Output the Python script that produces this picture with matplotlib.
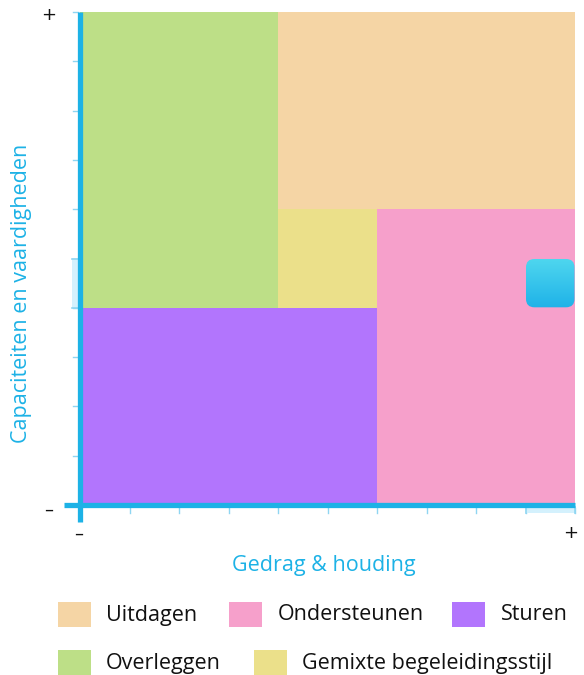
import numpy as np
import matplotlib
matplotlib.use("Agg")
import matplotlib.pyplot as plt
from matplotlib.patches import Rectangle, FancyBboxPatch

# quadrant data (x = gedrag & houding, y = capaciteiten)
styles = ['Uitdagen', 'Ondersteunen', 'Sturen', 'Overleggen', 'Gemixte begeleidingsstijl']
x_start = [4, 6, 0, 0, 4]
x_end = [10, 10, 6, 4, 6]
y_start = [6, 0, 0, 4, 4]
y_end = [10, 6, 4, 10, 6]
colors = ['#f5d5a5', '#f6a0cb', '#b275fd', '#bddf87', '#ebe08a']

# the assessed person
point_x = [9.5]
point_y = [4.5]

BLUE = '#1db2e6'
TICK = '#8fd6f2'
BAND = '#d4f1fd'

plt.rcParams['font.family'] = ['Open Sans', 'DejaVu Sans']

W, H = 584, 675
fig = plt.figure(figsize=(W / 100, H / 100), dpi=100)
ax = fig.add_axes([80 / W, 1 - 505 / H, 495 / W, 493 / H])
ax.set_xlim(0, 10)
ax.set_ylim(0, 10)
ax.axis('off')

for x0, x1, y0, y1, c in zip(x_start, x_end, y_start, y_end, colors):
    ax.add_patch(Rectangle((x0, y0), x1 - x0, y1 - y0, facecolor=c, edgecolor='none', zorder=1))

# ticks
for i in range(11):
    ax.plot([-0.14, -0.04], [i, i], color=TICK, lw=1, clip_on=False, zorder=2)
    ax.plot([i, i], [-0.06, -0.17], color=TICK, lw=1, clip_on=False, zorder=2)

# highlight bands on the axes for the point
for px, py in zip(point_x, point_y):
    cx, cy = int(np.floor(px)), int(np.floor(py))
    ax.add_patch(Rectangle((-0.17, cy), 0.12, 1, facecolor=BAND, edgecolor='none',
                           clip_on=False, zorder=2))
    ax.plot([-0.17, -0.05], [cy, cy], color=TICK, lw=1.2, clip_on=False, zorder=2)
    ax.plot([-0.17, -0.05], [cy + 1, cy + 1], color=TICK, lw=1.2, clip_on=False, zorder=2)
    ax.add_patch(Rectangle((cx, -0.17), 1, 0.12, facecolor=BAND, edgecolor='none',
                           clip_on=False, zorder=2))
    ax.plot([cx, cx], [-0.05, -0.17], color=TICK, lw=1.2, clip_on=False, zorder=2)
    ax.plot([cx + 1, cx + 1], [-0.05, -0.17], color=TICK, lw=1.2, clip_on=False, zorder=2)

# axis lines
ax.plot([0, 0], [-0.34, 10], color=BLUE, lw=3.8, solid_capstyle='butt', clip_on=False, zorder=3)
ax.plot([-0.33, 10], [0, 0], color=BLUE, lw=3.8, solid_capstyle='butt', clip_on=False, zorder=3)

# marker: rounded square with gradient
grad = np.linspace(0, 1, 100).reshape(-1, 1)
cmap = matplotlib.colors.LinearSegmentedColormap.from_list('g', ['#1fb2e8', '#4fd7ef'])
for px, py in zip(point_x, point_y):
    box = FancyBboxPatch((px - 0.49 + 0.17, py - 0.49 + 0.17), 0.98 - 0.34, 0.98 - 0.34,
                         boxstyle='round,pad=0.17', facecolor='none', edgecolor='none', zorder=4)
    ax.add_patch(box)
    im = ax.imshow(grad, cmap=cmap, origin='lower', aspect='auto',
                   extent=(px - 0.5, px + 0.5, py - 0.5, py + 0.5), zorder=4)
    im.set_clip_path(box)
ax.set_xlim(0, 10)
ax.set_ylim(0, 10)

# +/- markers
sign = dict(ha='center', va='center', color='#111111', family='DejaVu Sans', fontsize=13)
fig.text(48.5 / W, 1 - 15.5 / H, '+', **sign)
fig.text(49 / W, 1 - 510 / H, '–', **sign)
fig.text(79 / W, 1 - 534 / H, '–', **sign)
fig.text(571 / W, 1 - 533.5 / H, '+', **sign)

# axis titles
fig.text(324 / W, 1 - 566 / H, 'Gedrag & houding', ha='center', va='center', fontsize=15.5, color=BLUE)
fig.text(22 / W, 1 - 293 / H, 'Capaciteiten en vaardigheden', ha='center', va='center',
         rotation=90, fontsize=15.5, color=BLUE)

# legend
legend_pos = [(57.5, 602), (229, 602), (452, 602), (57.5, 650), (254, 650)]
for name, c, (lx, ly) in zip(styles, colors, legend_pos):
    fig.add_artist(Rectangle((lx / W, 1 - (ly + 25) / H), 33 / W, 25 / H,
                             transform=fig.transFigure, facecolor=c, edgecolor='none'))
    fig.text((lx + 48.5) / W, 1 - (ly + 13) / H, name, ha='left', va='center',
             fontsize=15.5, color='#111111')

fig.savefig('out.png', dpi=100)
